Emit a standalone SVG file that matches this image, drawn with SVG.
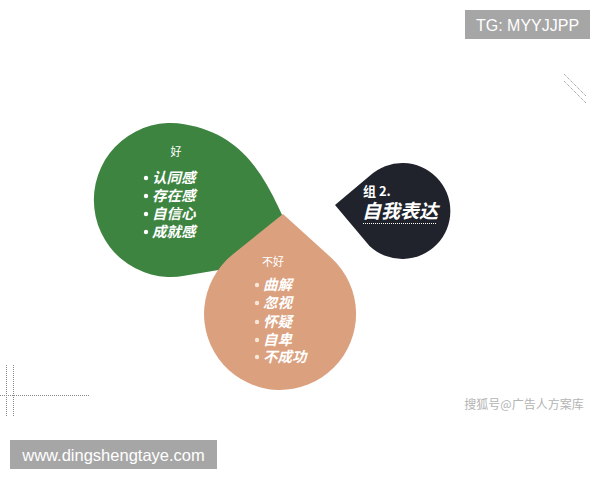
<svg xmlns="http://www.w3.org/2000/svg" width="600" height="480" viewBox="0 0 600 480">
<style>
.cjk{font-family:"Noto Sans CJK SC","Noto Sans",sans-serif;fill:#ffffff}
.item{font-size:14.5px;font-weight:bold;font-style:italic}
.head{font-size:11px}
.bul{fill:#ffffff}
.bul2{fill:#f6e6d6}
.badge{fill:#a6a6a6}
.badge-t{font-family:"Liberation Sans",Arial,sans-serif;fill:#ffffff}
.dot{stroke:#8a8a8a;stroke-width:1;stroke-dasharray:1 1;fill:none}
</style>
<rect width="600" height="480" fill="#ffffff"/>
<g id="good">
<path d="M300,255 C271,191 254,136 184.4,124.2 A77,77 0 1 0 184.4,275.8 C224,269 270,262 300,255 Z" fill="#3e8441"/>
<text class="cjk head" x="176" y="156" text-anchor="middle">好</text>
<circle class="bul" cx="146" cy="178" r="2.2"/>
<circle class="bul" cx="146" cy="196" r="2.2"/>
<circle class="bul" cx="146" cy="214" r="2.2"/>
<circle class="bul" cx="146" cy="232" r="2.2"/>
<text class="cjk item" x="152" y="183">认同感</text>
<text class="cjk item" x="152" y="201">存在感</text>
<text class="cjk item" x="152" y="219">自信心</text>
<text class="cjk item" x="152" y="237">成就感</text>
</g>
<g id="bad">
<path d="M283,214 L331.2,257.7 A76,76 0 1 1 232.3,254.8 Z" fill="#dba17f"/>
<text class="cjk head" x="273" y="266" text-anchor="middle">不好</text>
<circle class="bul2" cx="257" cy="285" r="2.2"/>
<circle class="bul2" cx="257" cy="303" r="2.2"/>
<circle class="bul2" cx="257" cy="322" r="2.2"/>
<circle class="bul2" cx="257" cy="340" r="2.2"/>
<circle class="bul2" cx="257" cy="357" r="2.2"/>
<text class="cjk item" x="263" y="290">曲解</text>
<text class="cjk item" x="263" y="308">忽视</text>
<text class="cjk item" x="263" y="327">怀疑</text>
<text class="cjk item" x="263" y="345">自卑</text>
<text class="cjk item" x="263" y="362">不成功</text>
</g>
<g id="self">
<path d="M335,205 L369.5,176 A48,48 0 1 1 369.5,246 Z" fill="#20232c"/>
<text class="cjk" x="363" y="196" font-size="13" font-weight="bold">组 2.</text>
<text class="cjk" x="362" y="218" font-size="19" font-weight="bold" font-style="italic">自我表达</text>
<line x1="363" y1="223.5" x2="437" y2="223.5" stroke="#ffffff" stroke-width="1" stroke-dasharray="1 1"/>
</g>
<g id="connectors"></g>
<g id="decor">
<line class="dot" x1="564" y1="74" x2="586" y2="96"/>
<line class="dot" x1="564" y1="81" x2="586" y2="103"/>
<line class="dot" x1="6.5" y1="365" x2="6.5" y2="417"/>
<line class="dot" x1="13.5" y1="365" x2="13.5" y2="417"/>
<line class="dot" x1="0" y1="395.5" x2="90" y2="395.5"/>
</g>
<g id="tg">
<rect class="badge" x="465" y="10" width="125" height="29"/>
<text class="badge-t" x="527.5" y="31" font-size="16" text-anchor="middle">TG: MYYJJPP</text>
</g>
<g id="site">
<rect class="badge" x="10" y="440" width="207" height="29"/>
<text class="badge-t" x="113.5" y="461" font-size="16.5" text-anchor="middle">www.dingshengtaye.com</text>
</g>
<text x="524" y="409" font-family="Noto Sans CJK SC,sans-serif" font-size="12" fill="#b4b4b4" text-anchor="middle">搜狐号@广告人方案库</text>
</svg>
